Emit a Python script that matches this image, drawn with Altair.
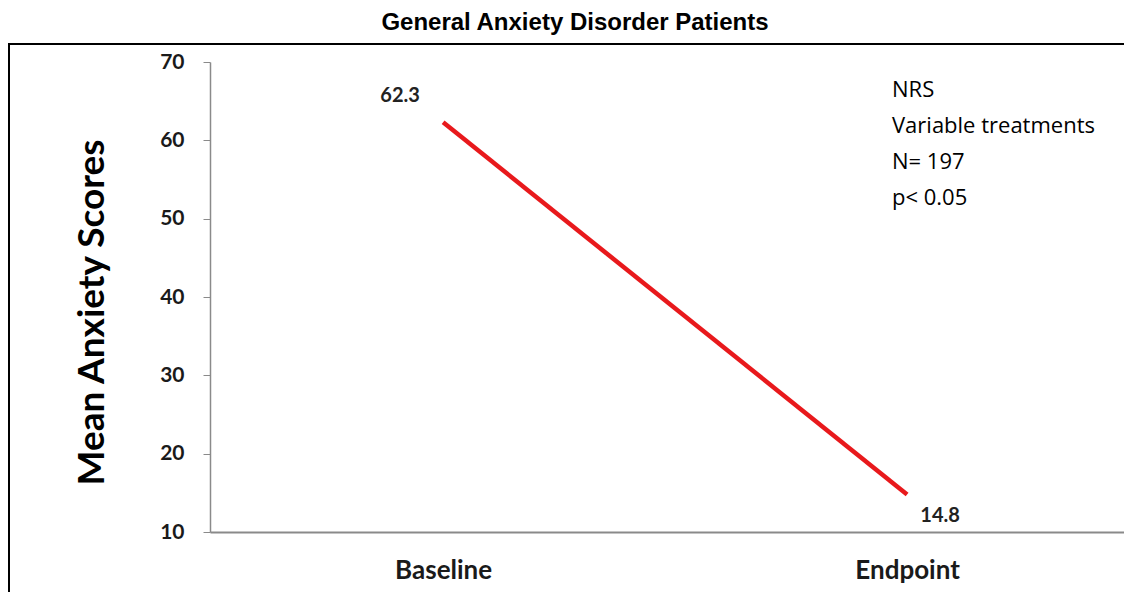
import altair as alt
import pandas as pd

# ---- data ----
categories = ["Baseline", "Endpoint"]
mean_scores = [62.3, 14.8]
score_labels = ["62.3", "14.8"]
y_ticks = [10, 20, 30, 40, 50, 60, 70]
note_lines = ["NRS", "Variable treatments", "N= 197", "p< 0.05"]
chart_title = "General Anxiety Disorder Patients"
y_title = "Mean Anxiety Scores"

df = pd.DataFrame({"phase": categories, "score": mean_scores, "label": score_labels})
note_df = pd.DataFrame({"note": ["\n".join(note_lines)]})
frame_df = pd.DataFrame({"f": [0]})

W, H = 914, 470
AX = "#8a8a8a"
LABEL_FONT = "Lato"

x_enc = alt.X(
    "phase:N",
    sort=categories,
    scale=alt.Scale(type="point", padding=0.485, align=0.518),
    axis=alt.Axis(
        title=None, labelAngle=0, ticks=False,
        domainColor=AX, domainWidth=2, labelFont=LABEL_FONT, labelFontSize=26,
        labelFontWeight="bold", labelColor="#1a1a1a", labelPadding=25, grid=False,
    ),
)
y_enc = alt.Y(
    "score:Q",
    scale=alt.Scale(domain=[10, 70], nice=False, zero=False),
    axis=alt.Axis(
        values=y_ticks, title=y_title, grid=False, tickSize=7, tickColor=AX,
        domainColor=AX, domainWidth=1.5, labelFont=LABEL_FONT, labelFontSize=21,
        labelFontWeight="bold", labelColor="#1a1a1a", labelPadding=19,
        titleFont=LABEL_FONT, titleFontSize=37, titleFontWeight="bold",
        titleColor="black", titleAngle=-90, titleAlign="center",
        titleBaseline="alphabetic", titleX=-107, titleY=250,
    ),
)

frame = alt.Chart(frame_df).mark_rect(
    fill="transparent", stroke="black", strokeWidth=2
).encode(x=alt.value(-201), x2=alt.value(960), y=alt.value(-18), y2=alt.value(620))

line = alt.Chart(df).mark_line(color="#e8191c", strokeWidth=4.5).encode(x=x_enc, y=y_enc)

lab_base = alt.Chart(df).transform_filter(alt.datum.phase == "Baseline").mark_text(
    font=LABEL_FONT, fontSize=20, fontWeight="bold", color="#222222",
    dx=-43, dy=-20, baseline="alphabetic",
).encode(x=x_enc, y=y_enc, text="label:N")

lab_end = alt.Chart(df).transform_filter(alt.datum.phase == "Endpoint").mark_text(
    font=LABEL_FONT, fontSize=20, fontWeight="bold", color="#222222",
    dx=33, dy=28, baseline="alphabetic",
).encode(x=x_enc, y=y_enc, text="label:N")

note = alt.Chart(note_df).mark_text(
    align="left", baseline="alphabetic", font="Open Sans", fontSize=22,
    lineHeight=36, lineBreak="\n", color="black",
).encode(text="note:N", x=alt.value(682), y=alt.value(35))

chart = alt.layer(frame, line, lab_base, lab_end, note).properties(
    width=W, height=H,
    autosize=alt.AutoSizeParams(type="none"),
    padding={"left": 202, "top": 54, "right": 0, "bottom": 60},
    title=alt.TitleParams(
        chart_title, font="Liberation Sans", fontSize=24, fontWeight="bold",
        color="black", anchor="middle", frame="group", dx=-92, dy=25, offset=14,
        baseline="alphabetic",
    ),
    background="white",
).configure_view(stroke=None)

chart.save("out.html", embed_options={"renderer": "svg", "actions": False})
